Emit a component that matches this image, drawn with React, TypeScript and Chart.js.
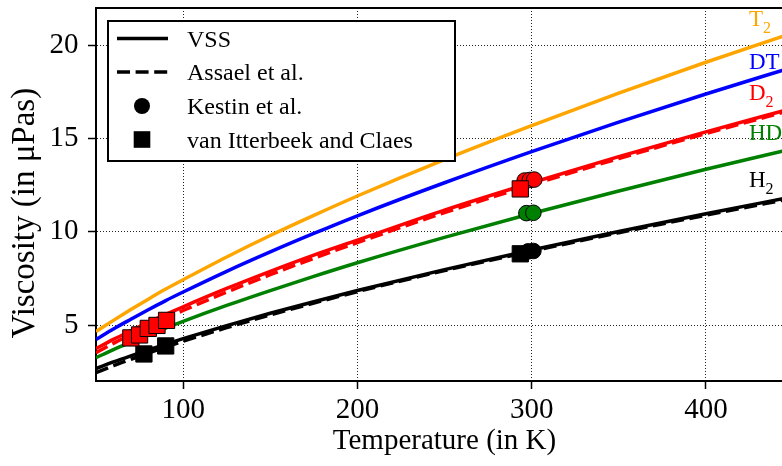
import React, { useEffect, useRef } from 'react';
import { Chart, registerables } from 'chart.js';

Chart.register(...registerables);

const FONT = "'Liberation Serif', 'Times New Roman', serif";

// Temperatures (K) at which the curves are sampled
const temps = [50, 60, 70, 80, 90, 100, 125, 150, 175, 200, 250, 300, 350, 400, 450];

// VSS model curves (µPa s)
const vssH2 = [2.67, 3.02, 3.35, 3.67, 3.98, 4.27, 4.97, 5.63, 6.25, 6.85, 7.97, 9.02, 10.02, 10.97, 11.88];
const vssHD = [3.25, 3.68, 4.08, 4.47, 4.84, 5.2, 6.05, 6.85, 7.61, 8.34, 9.7, 10.98, 12.19, 13.35, 14.46];
const vssD2 = [3.74, 4.23, 4.69, 5.14, 5.57, 5.98, 6.96, 7.88, 8.75, 9.55, 11.16, 12.63, 14.03, 15.36, 16.63];
const vssDT = [4.23, 4.79, 5.31, 5.82, 6.31, 6.77, 7.88, 8.92, 9.91, 10.86, 12.63, 14.3, 15.88, 17.39, 18.83];
const vssT2 = [4.65, 5.25, 5.83, 6.39, 6.93, 7.43, 8.65, 9.8, 10.88, 11.92, 13.87, 15.69, 17.43, 19.09, 20.67];

// Assael et al. correlations
const assaelH2 = [2.45, 2.82, 3.16, 3.5, 3.82, 4.13, 4.86, 5.54, 6.18, 6.79, 7.92, 8.96, 9.95, 10.89, 11.8];
const assaelD2 = [3.52, 4.02, 4.48, 4.93, 5.36, 5.78, 6.77, 7.7, 8.58, 9.42, 11.03, 12.52, 13.93, 15.27, 16.55];

// Kestin et al. measurements
const kestinH2T = [298, 301];
const kestinH2 = [8.95, 8.97];
const kestinHDT = [297, 301];
const kestinHD = [11.0, 11.02];
const kestinD2T = [296, 299, 301.5];
const kestinD2 = [12.75, 12.78, 12.8];

// van Itterbeek and Claes measurements
const itterH2T = [77.5, 90, 293.5];
const itterH2 = [3.45, 3.88, 8.82];
const itterD2T = [70, 75, 80, 85, 90.5, 293.5];
const itterD2 = [4.31, 4.47, 4.82, 4.98, 5.25, 12.3];

// Axis ticks
const xTicks = [100, 200, 300, 400];
const yTicks = [5, 10, 15, 20];

// Species labels (text, subscript, colour) with anchor in data coordinates
const speciesLabels = [
  { base: 'T', sub: '2', color: '#FFA500', x: 424.7, y: 21.02 },
  { base: 'DT', sub: '', color: '#0000FF', x: 424.7, y: 18.71 },
  { base: 'D', sub: '2', color: '#FF0000', x: 424.7, y: 17.05 },
  { base: 'HD', sub: '', color: '#008000', x: 424.7, y: 14.91 },
  { base: 'H', sub: '2', color: '#000000', x: 424.7, y: 12.39 },
];

const legendItems = ['VSS', 'Assael et al.', 'Kestin et al.', 'van Itterbeek and Claes'];

const toPts = (xs: number[], ys: number[]) => xs.map((x, i) => ({ x, y: ys[i] }));

export default function App() {
  const ref = useRef<HTMLCanvasElement>(null);

  useEffect(() => {
    if (!ref.current) return;

    const lineDs = (label: string, ys: number[], color: string, dashed: boolean, order: number) => ({
      label,
      data: toPts(temps, ys),
      showLine: true,
      borderColor: color,
      backgroundColor: color,
      borderWidth: 3.5,
      borderDash: dashed ? [13, 5.6] : [],
      pointRadius: 0,
      pointHoverRadius: 0,
      cubicInterpolationMode: 'monotone',
      fill: false,
      order,
    });

    const markerDs = (label: string, xs: number[], ys: number[], color: string, style: string, radius: number, order: number) => ({
      label,
      data: toPts(xs, ys),
      showLine: false,
      pointStyle: style,
      pointRadius: radius,
      pointHoverRadius: radius,
      backgroundColor: color,
      borderColor: '#000',
      borderWidth: 1,
      order,
    });

    const decor = {
      id: 'decor',
      afterDraw(chart: any) {
        const { ctx, chartArea, scales } = chart;
        const xs = scales.x;
        const ys = scales.y;
        ctx.save();
        // top frame line
        ctx.strokeStyle = '#000';
        ctx.lineWidth = 2;
        ctx.beginPath();
        ctx.moveTo(chartArea.left - 1, chartArea.top);
        ctx.lineTo(chartArea.right + 1, chartArea.top);
        ctx.stroke();

        // species labels
        ctx.textAlign = 'left';
        ctx.textBaseline = 'alphabetic';
        for (const l of speciesLabels) {
          const px = xs.getPixelForValue(l.x);
          const py = ys.getPixelForValue(l.y);
          ctx.fillStyle = l.color;
          ctx.font = `23px ${FONT}`;
          ctx.fillText(l.base, px, py);
          if (l.sub) {
            const w = ctx.measureText(l.base).width;
            ctx.font = `16px ${FONT}`;
            ctx.fillText(l.sub, px + w, py + 6.5);
          }
        }

        // y axis title
        ctx.save();
        ctx.translate(25, 213);
        ctx.rotate(-Math.PI / 2);
        ctx.textAlign = 'center';
        ctx.textBaseline = 'middle';
        ctx.fillStyle = '#000';
        ctx.font = `33px ${FONT}`;
        ctx.fillText('Viscosity (in μPas)', 0, 0);
        ctx.restore();

        // legend
        const bx = 108, by = 21, bw = 347, bh = 140;
        ctx.fillStyle = '#fff';
        ctx.fillRect(bx, by, bw, bh);
        ctx.strokeStyle = '#000';
        ctx.lineWidth = 2;
        ctx.strokeRect(bx, by, bw, bh);
        const rows = [38.5, 72, 106, 139.5];
        ctx.lineWidth = 3.5;
        ctx.beginPath();
        ctx.moveTo(117, rows[0]);
        ctx.lineTo(168, rows[0]);
        ctx.stroke();
        ctx.setLineDash([13, 5.6]);
        ctx.beginPath();
        ctx.moveTo(117, rows[1]);
        ctx.lineTo(168, rows[1]);
        ctx.stroke();
        ctx.setLineDash([]);
        ctx.fillStyle = '#000';
        ctx.beginPath();
        ctx.arc(142, rows[2], 8, 0, Math.PI * 2);
        ctx.fill();
        ctx.fillRect(142 - 8.3, rows[3] - 8.3, 16.6, 16.6);
        ctx.font = `24px ${FONT}`;
        ctx.textAlign = 'left';
        ctx.textBaseline = 'alphabetic';
        legendItems.forEach((t, i) => ctx.fillText(t, 187, rows[i] + 8));
        ctx.restore();
      },
    };

    const chart = new Chart(ref.current, {
      type: 'scatter',
      data: {
        datasets: [
          markerDs('van Itterbeek D2', itterD2T, itterD2, '#FF0000', 'rect', 11.5, 1),
          markerDs('van Itterbeek H2', itterH2T, itterH2, '#000000', 'rect', 11.5, 1),
          markerDs('Kestin D2', kestinD2T, kestinD2, '#FF0000', 'circle', 7.8, 2),
          markerDs('Kestin HD', kestinHDT, kestinHD, '#008000', 'circle', 7.8, 2),
          markerDs('Kestin H2', kestinH2T, kestinH2, '#000000', 'circle', 7.8, 2),
          lineDs('Assael D2', assaelD2, '#FF0000', true, 10),
          lineDs('Assael H2', assaelH2, '#000000', true, 10),
          lineDs('VSS T2', vssT2, '#FFA500', false, 20),
          lineDs('VSS DT', vssDT, '#0000FF', false, 20),
          lineDs('VSS D2', vssD2, '#FF0000', false, 20),
          lineDs('VSS HD', vssHD, '#008000', false, 20),
          lineDs('VSS H2', vssH2, '#000000', false, 20),
        ] as any,
      },
      options: {
        responsive: false,
        animation: false,
        devicePixelRatio: 1,
        events: [],
        layout: { autoPadding: false, padding: { left: 0, top: 8, right: 7, bottom: 0 } },
        plugins: { legend: { display: false }, tooltip: { enabled: false } },
        scales: {
          x: {
            type: 'linear',
            min: 50,
            max: 450,
            afterBuildTicks: (s: any) => {
              s.ticks = xTicks.map((v) => ({ value: v }));
            },
            afterFit: (s: any) => {
              s.height = 85;
              s.paddingLeft = 0;
              s.paddingRight = 0;
            },
            grid: { color: '#222', lineWidth: 1, tickLength: 8, tickColor: '#000', tickWidth: 1.5 },
            border: { display: true, color: '#000', width: 2, dash: [1, 2] },
            ticks: { font: { family: FONT, size: 29 }, color: '#000', padding: 4, maxRotation: 0, autoSkip: false },
            title: {
              display: true,
              text: 'Temperature (in K)',
              font: { family: FONT, size: 29 },
              color: '#000',
              padding: { top: 0, bottom: 7.6 },
            },
          },
          y: {
            type: 'linear',
            min: 2,
            max: 22,
            afterBuildTicks: (s: any) => {
              s.ticks = yTicks.map((v) => ({ value: v }));
            },
            afterFit: (s: any) => {
              s.width = 96;
              s.paddingTop = 0;
              s.paddingBottom = 0;
            },
            grid: { color: '#222', lineWidth: 1, tickLength: 8, tickColor: '#000', tickWidth: 1.5 },
            border: { display: true, color: '#000', width: 2, dash: [1, 2] },
            ticks: { font: { family: FONT, size: 29 }, color: '#000', padding: 9.5, autoSkip: false },
          },
        },
      } as any,
      plugins: [decor],
    });

    return () => chart.destroy();
  }, []);

  return (
    <div
      style={{
        position: 'fixed',
        left: 0,
        top: 0,
        width: 782,
        height: 466,
        overflow: 'hidden',
        background: '#fff',
      }}
    >
      <canvas ref={ref} width={800} height={466} style={{ display: 'block' }} />
    </div>
  );
}
